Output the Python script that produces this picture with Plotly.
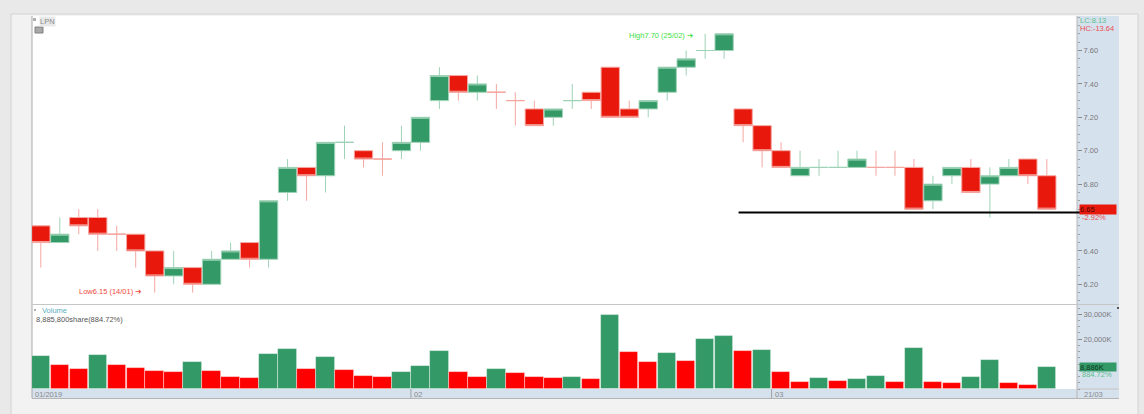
import plotly.graph_objects as go

# ---------------- data ----------------
TICKER = "LPN"
dates = [
    "2019-01-04", "2019-01-07", "2019-01-08", "2019-01-09", "2019-01-10", "2019-01-11",
    "2019-01-14", "2019-01-15", "2019-01-16", "2019-01-17", "2019-01-18", "2019-01-21",
    "2019-01-22", "2019-01-23", "2019-01-24", "2019-01-25", "2019-01-28", "2019-01-29",
    "2019-01-30", "2019-01-31",
    "2019-02-01", "2019-02-04", "2019-02-06", "2019-02-07", "2019-02-08", "2019-02-11",
    "2019-02-12", "2019-02-13", "2019-02-14", "2019-02-15", "2019-02-18", "2019-02-19",
    "2019-02-20", "2019-02-21", "2019-02-22", "2019-02-25", "2019-02-26", "2019-02-27",
    "2019-02-28",
    "2019-03-01", "2019-03-04", "2019-03-05", "2019-03-06", "2019-03-07", "2019-03-08",
    "2019-03-11", "2019-03-12", "2019-03-13", "2019-03-14", "2019-03-15", "2019-03-18",
    "2019-03-19", "2019-03-20", "2019-03-21",
]
opens = [6.55, 6.45, 6.60, 6.60, 6.50, 6.50, 6.40, 6.25, 6.30, 6.20, 6.35, 6.45, 6.35, 6.75,
         6.90, 6.85, 7.05, 7.00, 6.95, 7.00, 7.05, 7.30, 7.45, 7.35, 7.35, 7.30, 7.25, 7.20,
         7.30, 7.35, 7.50, 7.25, 7.25, 7.35, 7.50, 7.60, 7.60, 7.25, 7.15, 7.00, 6.85, 6.90,
         6.90, 6.90, 6.90, 6.90, 6.90, 6.70, 6.85, 6.90, 6.80, 6.85, 6.95, 6.85]
highs = [6.55, 6.60, 6.65, 6.65, 6.55, 6.50, 6.40, 6.40, 6.30, 6.40, 6.45, 6.45, 6.70, 6.95,
         6.90, 7.05, 7.15, 7.00, 7.05, 7.15, 7.20, 7.50, 7.45, 7.45, 7.40, 7.35, 7.30, 7.25,
         7.40, 7.35, 7.50, 7.30, 7.30, 7.50, 7.60, 7.70, 7.70, 7.25, 7.15, 7.05, 7.00, 6.95,
         7.00, 7.00, 7.00, 7.00, 6.95, 6.85, 6.90, 6.95, 6.90, 6.95, 6.95, 6.95]
lows = [6.30, 6.45, 6.50, 6.40, 6.40, 6.30, 6.15, 6.20, 6.15, 6.20, 6.35, 6.30, 6.30, 6.70,
        6.70, 6.75, 6.95, 6.90, 6.85, 6.95, 7.00, 7.25, 7.30, 7.30, 7.25, 7.15, 7.15, 7.15,
        7.25, 7.25, 7.20, 7.20, 7.20, 7.30, 7.45, 7.55, 7.55, 7.05, 6.90, 6.90, 6.85, 6.85,
        6.90, 6.90, 6.85, 6.85, 6.65, 6.65, 6.80, 6.75, 6.60, 6.85, 6.80, 6.65]
closes = [6.45, 6.50, 6.55, 6.50, 6.50, 6.40, 6.25, 6.30, 6.20, 6.35, 6.40, 6.35, 6.70, 6.90,
          6.85, 7.05, 7.05, 6.95, 6.95, 7.05, 7.20, 7.45, 7.35, 7.40, 7.35, 7.30, 7.15, 7.25,
          7.30, 7.30, 7.20, 7.20, 7.30, 7.50, 7.55, 7.60, 7.70, 7.15, 7.00, 6.90, 6.90, 6.90,
          6.90, 6.95, 6.90, 6.90, 6.65, 6.80, 6.90, 6.75, 6.85, 6.90, 6.85, 6.65]
volumes_k = [13440, 9600, 8000, 13600, 9600, 8400, 7200, 6920, 10800, 7200, 4800, 4520, 14240,
             16240, 8120, 13040, 7600, 5320, 4640, 6920, 9200, 15320, 6920, 4800, 8120, 6400,
             4920, 4520, 4800, 4000, 29840, 14800, 10920, 14400, 11200, 20000, 21440, 15320,
             15840, 6920, 2640, 4240, 3320, 4000, 5040, 2920, 16640, 2920, 2400, 4920, 11840,
             2400, 1600, 8885.8]
volume_dir = ["G", "R", "R", "G", "R", "R", "R", "R", "G", "R", "R", "R", "G", "G", "R", "G",
              "R", "R", "R", "G", "G", "G", "R", "R", "G", "R", "R", "R", "G", "R", "G", "R",
              "R", "G", "R", "G", "G", "R", "G", "R", "R", "G", "R", "G", "G", "R", "G", "R",
              "R", "G", "G", "R", "R", "G"]
LAST_VOLUME_SHARES = 8885800
VOLUME_PCT_TEXT = "884.72%"
LC_TEXT = "LC:8.13"
HC_TEXT = "HC:-13.64"
SUPPORT_LEVEL = 6.63
SUPPORT_START = 36.76
PRICE_TICKS = [6.20, 6.40, 6.80, 7.00, 7.20, 7.40, 7.60]
VOLUME_TICKS = [20000, 30000]

# ---------------- layout geometry ----------------
W, H = 1144, 414
ML, MR, MT, MB = 32, 67, 16, 25
PW, PH = W - ML - MR, H - MT - MB
X_RANGE = [-0.464, len(dates) - 1 + 1.59]
Y_RANGE = [6.082, 7.8066]
V_RANGE = [0, 33320]
PRICE_DOMAIN = [(H - MB - 304) / PH, 1.0]
VOL_DOMAIN = [0.0, (H - MB - 306) / PH]


def px(xp):
    return (xp - ML) / PW


def py(yp):
    return (H - MB - yp) / PH


def idx2paper(i):
    return (i - X_RANGE[0]) / (X_RANGE[1] - X_RANGE[0])


FONT = "Liberation Sans, Arial, sans-serif"
RED = "#e8190c"
GREEN = "#339966"
RED_LIGHT = "#f5a7a1"
GREEN_LIGHT = "#9fd3b7"
VOL_RED = "#ff0000"
VOL_GREEN = "#339966"
AXIS_BG = "#d6e1ee"
TXT = "#7a7a7a"
ARROW = "<span style='font-family:DejaVu Sans'>\u2794</span>"

xs = list(range(len(dates)))

fig = go.Figure()

fig.add_trace(go.Candlestick(
    x=xs, open=opens, high=highs, low=lows, close=closes,
    increasing=dict(line=dict(color=GREEN_LIGHT, width=1), fillcolor=GREEN),
    decreasing=dict(line=dict(color=RED_LIGHT, width=1), fillcolor=RED),
    whiskerwidth=0, xaxis="x", yaxis="y", hoverinfo="skip",
))

fig.add_trace(go.Bar(
    x=xs, y=volumes_k, width=0.97,
    marker=dict(color=[VOL_GREEN if d == "G" else VOL_RED for d in volume_dir],
                line=dict(color="rgba(255,255,255,0.5)", width=0.8)),
    xaxis="x2", yaxis="y2", hoverinfo="skip",
))

# ---------------- background panels ----------------
shapes = []


def rect(x0, y0, x1, y1, fill, line=None, lw=0, layer="below"):
    shapes.append(dict(type="rect", xref="paper", yref="paper",
                       x0=px(x0), x1=px(x1), y0=py(y1), y1=py(y0),
                       fillcolor=fill, line=dict(color=line or fill, width=lw), layer=layer))


def hline(x0, x1, y, color, w=1, layer="below"):
    shapes.append(dict(type="line", xref="paper", yref="paper", x0=px(x0), x1=px(x1),
                       y0=py(y), y1=py(y), line=dict(color=color, width=w), layer=layer))


def vline(x, y0, y1, color, w=1, layer="below"):
    shapes.append(dict(type="line", xref="paper", yref="paper", x0=px(x), x1=px(x),
                       y0=py(y0), y1=py(y1), line=dict(color=color, width=w), layer=layer))


rect(11, 14, 1138, 430, "#f2f2f2", "#d2d2d2", 1)
rect(32, 16, 1077, 389, "#ffffff")
rect(1077, 16, 1119, 398, AXIS_BG)
rect(32, 389, 1077, 398, AXIS_BG)
vline(32, 16, 398, "#a9a9a9")
vline(1077, 16, 398, "#b4b4b4")
hline(32, 1119, 398.5, "#b4b4b4")
hline(32, 1119, 304.5, "#c6c6c6")
hline(1077, 1119, 389, "#c6c6c6")
# small icons
rect(33, 18, 36, 21, "#b0b0b0", layer="above")
rect(35, 27, 43, 33, "#a8a8a8", "#808080", 1, layer="above")
rect(34, 309, 36, 311, "#b0b0b0", layer="above")
rect(1117, 307, 1119, 309, "#555555", layer="above")

# month boundaries in the x strip
month_labels = []
for i, d in enumerate(dates):
    if i == 0:
        month_labels.append((X_RANGE[0], d[5:7] + "/" + d[:4]))
    elif d[5:7] != dates[i - 1][5:7]:
        month_labels.append((i - 0.5, d[5:7]))
        shapes.append(dict(type="line", xref="x2", yref="paper", x0=i - 0.5, x1=i - 0.5,
                           y0=py(398), y1=py(389), line=dict(color="#a0a0a0", width=1),
                           layer="above"))

# support line
shapes.append(dict(type="line", xref="paper", yref="y", x0=idx2paper(SUPPORT_START), x1=px(1092),
                   y0=SUPPORT_LEVEL, y1=SUPPORT_LEVEL, line=dict(color="#000000", width=2),
                   layer="above"))

# ---------------- annotations ----------------
ann = []


def text(x, y, s, color=TXT, size=7.5, xref="paper", yref="paper", xanchor="left",
         yanchor="middle", **kw):
    ann.append(dict(x=x, y=y, xref=xref, yref=yref, text=s, showarrow=False,
                    xanchor=xanchor, yanchor=yanchor,
                    font=dict(family=FONT, size=size, color=color), **kw))


text(px(39), py(21), TICKER, color="#8a8a8a", bgcolor="#e9e9e9", borderpad=0)

i_hi = max(range(len(highs)), key=lambda i: highs[i])
i_lo = min(range(len(lows)), key=lambda i: lows[i])
d_hi, d_lo = dates[i_hi], dates[i_lo]
text(i_hi - 0.55, highs[i_hi], f"High{highs[i_hi]:.2f} ({d_hi[8:10]}/{d_hi[5:7]}) {ARROW}",
     color="#3fe03f", xref="x", yref="y", xanchor="right", yshift=-2)
text(i_lo - 0.55, lows[i_lo], f"Low{lows[i_lo]:.2f} ({d_lo[8:10]}/{d_lo[5:7]}) {ARROW}",
     color="#f0493c", xref="x", yref="y", xanchor="right", yshift=1)

text(px(40), py(310.5), "Volume", color="#5ab0bf")
text(px(34), py(319.5), f"{LAST_VOLUME_SHARES:,}share({VOLUME_PCT_TEXT})", color="#555555")

text(px(1078), py(20.5), LC_TEXT, color="#5cbf8a")
text(px(1078), py(28.5), HC_TEXT, color="#e84c4c")

pct = (closes[-1] / closes[-2] - 1) * 100
text(px(1079), closes[-1], f"{closes[-1]:.2f}", color="#4a0a05", yref="y",
     bgcolor=RED, width=36, align="left", borderpad=0, height=9)
text(px(1080), py(217), f"{pct:.2f}%", color="#e84c4c")

text(px(1079), volumes_k[-1], f"{round(volumes_k[-1]):,}K", color="#0b3b22", yref="y2",
     bgcolor=VOL_GREEN, width=36, align="left", borderpad=0, height=8)
text(px(1080), py(374.5), VOLUME_PCT_TEXT, color="#5cbf8a")

for xv, lab in month_labels:
    text(xv, py(394), lab, color="#8a8a8a", xref="x2", xshift=1)
last = dates[-1]
text(px(1082), py(394), f"{last[8:10]}/{last[5:7]}", color="#8a8a8a")

fig.update_layout(
    width=W, height=H, autosize=False,
    margin=dict(l=ML, r=MR, t=MT, b=MB, pad=0),
    paper_bgcolor="#e9e9e9", plot_bgcolor="rgba(0,0,0,0)",
    showlegend=False, hovermode=False,
    boxgap=0.035, boxgroupgap=0, bargap=0,
    shapes=shapes, annotations=ann,
    xaxis=dict(domain=[0, 1], range=X_RANGE, anchor="y", showticklabels=False, ticks="",
               showgrid=False, zeroline=False, showline=False, rangeslider=dict(visible=False)),
    xaxis2=dict(domain=[0, 1], range=X_RANGE, anchor="y2", showticklabels=False, ticks="",
                showgrid=False, zeroline=False, showline=False),
    yaxis=dict(domain=PRICE_DOMAIN, range=Y_RANGE, side="right", anchor="x",
               tickmode="array", tickvals=PRICE_TICKS, ticktext=[f"{v:.2f}" for v in PRICE_TICKS],
               ticks="outside", ticklen=4, tickcolor="#8a8a8a", tickwidth=1,
               tickfont=dict(family=FONT, size=7.5, color=TXT),
               showgrid=False, zeroline=False, showline=False,
               minor=dict(ticks="outside", ticklen=2, tickmode="linear", tick0=0, dtick=0.05,
                          tickcolor="#a0a0a0", showgrid=False)),
    yaxis2=dict(domain=VOL_DOMAIN, range=V_RANGE, side="right", anchor="x2",
                tickmode="array", tickvals=VOLUME_TICKS, ticktext=[f"{v:,}K" for v in VOLUME_TICKS],
                ticks="outside", ticklen=4, tickcolor="#8a8a8a", tickwidth=1,
                tickfont=dict(family=FONT, size=7.5, color=TXT),
                showgrid=False, zeroline=False, showline=False,
                minor=dict(ticks="outside", ticklen=2, tickmode="linear", tick0=0, dtick=2500,
                           tickcolor="#a0a0a0", showgrid=False)),
)

fig.write_html(
    "out.html",
    config={"displayModeBar": False},
    post_script="document.body.style.margin='0';document.body.style.overflow='hidden';",
)
